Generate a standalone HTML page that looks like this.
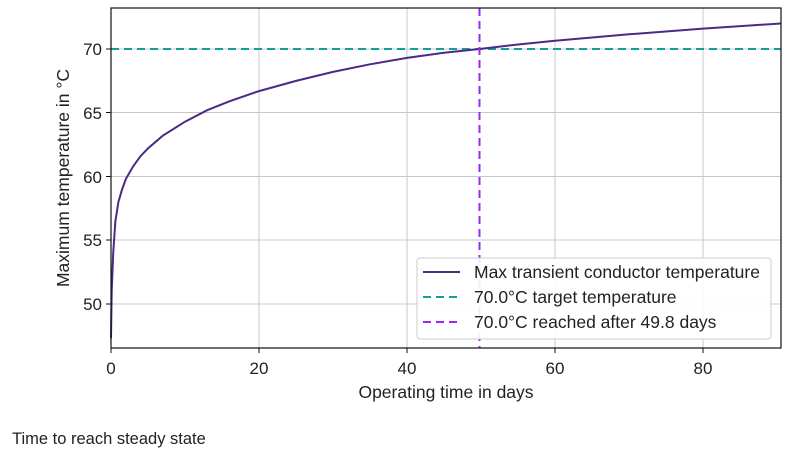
<!DOCTYPE html>
<html><head><meta charset="utf-8"><style>
body{margin:0;background:#fff;width:800px;height:455px;overflow:hidden;font-family:"Liberation Sans",sans-serif}
svg text{font-family:"Liberation Sans",sans-serif;fill:#222}
</style></head><body>
<svg width="800" height="455" xmlns="http://www.w3.org/2000/svg">
<g stroke="#c8c8c8" stroke-width="1">
<line x1="259" y1="8" x2="259" y2="348"/><line x1="407" y1="8" x2="407" y2="348"/>
<line x1="555" y1="8" x2="555" y2="348"/><line x1="703" y1="8" x2="703" y2="348"/>
<line x1="111" y1="49" x2="781" y2="49"/><line x1="111" y1="112.5" x2="781" y2="112.5"/>
<line x1="111" y1="176.5" x2="781" y2="176.5"/><line x1="111" y1="240" x2="781" y2="240"/>
<line x1="111" y1="304" x2="781" y2="304"/>
</g>
<line x1="111" y1="49" x2="781" y2="49" stroke="#12a09a" stroke-width="2" stroke-dasharray="8,5"/>
<path id="curve" fill="none" stroke="#4b2a86" stroke-width="2"/>
<line x1="479.5" y1="8" x2="479.5" y2="348" stroke="#9b2af0" stroke-width="2" stroke-dasharray="8,5"/>
<rect x="111" y="8" width="670" height="340" fill="none" stroke="#111" stroke-width="1.2"/>
<g stroke="#111"><line x1="111" y1="348" x2="111" y2="353"/><line x1="259" y1="348" x2="259" y2="353"/><line x1="407" y1="348" x2="407" y2="353"/><line x1="555" y1="348" x2="555" y2="353"/><line x1="703" y1="348" x2="703" y2="353"/>
<line x1="106" y1="49" x2="111" y2="49"/><line x1="106" y1="112.5" x2="111" y2="112.5"/><line x1="106" y1="176.5" x2="111" y2="176.5"/><line x1="106" y1="240" x2="111" y2="240"/><line x1="106" y1="304" x2="111" y2="304"/></g>
<g font-size="17" text-anchor="middle">
<text x="111" y="374">0</text><text x="259" y="374">20</text><text x="407" y="374">40</text><text x="555" y="374">60</text><text x="703" y="374">80</text>
<text x="446" y="398" font-size="17.5">Operating time in days</text>
</g>
<g font-size="17" text-anchor="end">
<text x="102" y="55">70</text><text x="102" y="119">65</text><text x="102" y="183">60</text><text x="102" y="246">55</text><text x="102" y="310">50</text>
</g>
<text font-size="17.5" text-anchor="middle" transform="translate(69,178) rotate(-90)">Maximum temperature in °C</text>
<rect x="417" y="258" width="354" height="81" rx="3" fill="#fff" fill-opacity="0.9" stroke="#ccc"/>
<line x1="423" y1="272" x2="460" y2="272" stroke="#4b2a86" stroke-width="2"/>
<line x1="423" y1="297" x2="460" y2="297" stroke="#12a09a" stroke-width="2" stroke-dasharray="8,5"/>
<line x1="423" y1="322" x2="460" y2="322" stroke="#9b2af0" stroke-width="2" stroke-dasharray="8,5"/>
<g font-size="17.5"><text x="474" y="278">Max transient conductor temperature</text><text x="474" y="303">70.0°C target temperature</text><text x="474" y="328">70.0°C reached after 49.8 days</text></g>
<text x="12" y="444" font-size="16.5">Time to reach steady state</text>
</svg>
<script>
var p=[[0,47.3],[0.1,51],[0.3,54],[0.6,56.5],[1,58],[1.5,59],[2,59.8],[3,60.8],[4,61.6],[5,62.2],[7,63.2],[10,64.3],[13,65.2],[16,65.9],[20,66.7],[25,67.5],[30,68.2],[35,68.8],[40,69.3],[45,69.7],[49.8,70],[55,70.35],[60,70.65],[70,71.15],[80,71.6],[90.5,72]];
document.getElementById('curve').setAttribute('d',p.map(function(q,i){return (i?'L':'M')+(111+7.4*q[0]).toFixed(1)+','+(49+(70-q[1])*12.75).toFixed(1)}).join(''));
</script>
</body></html>
